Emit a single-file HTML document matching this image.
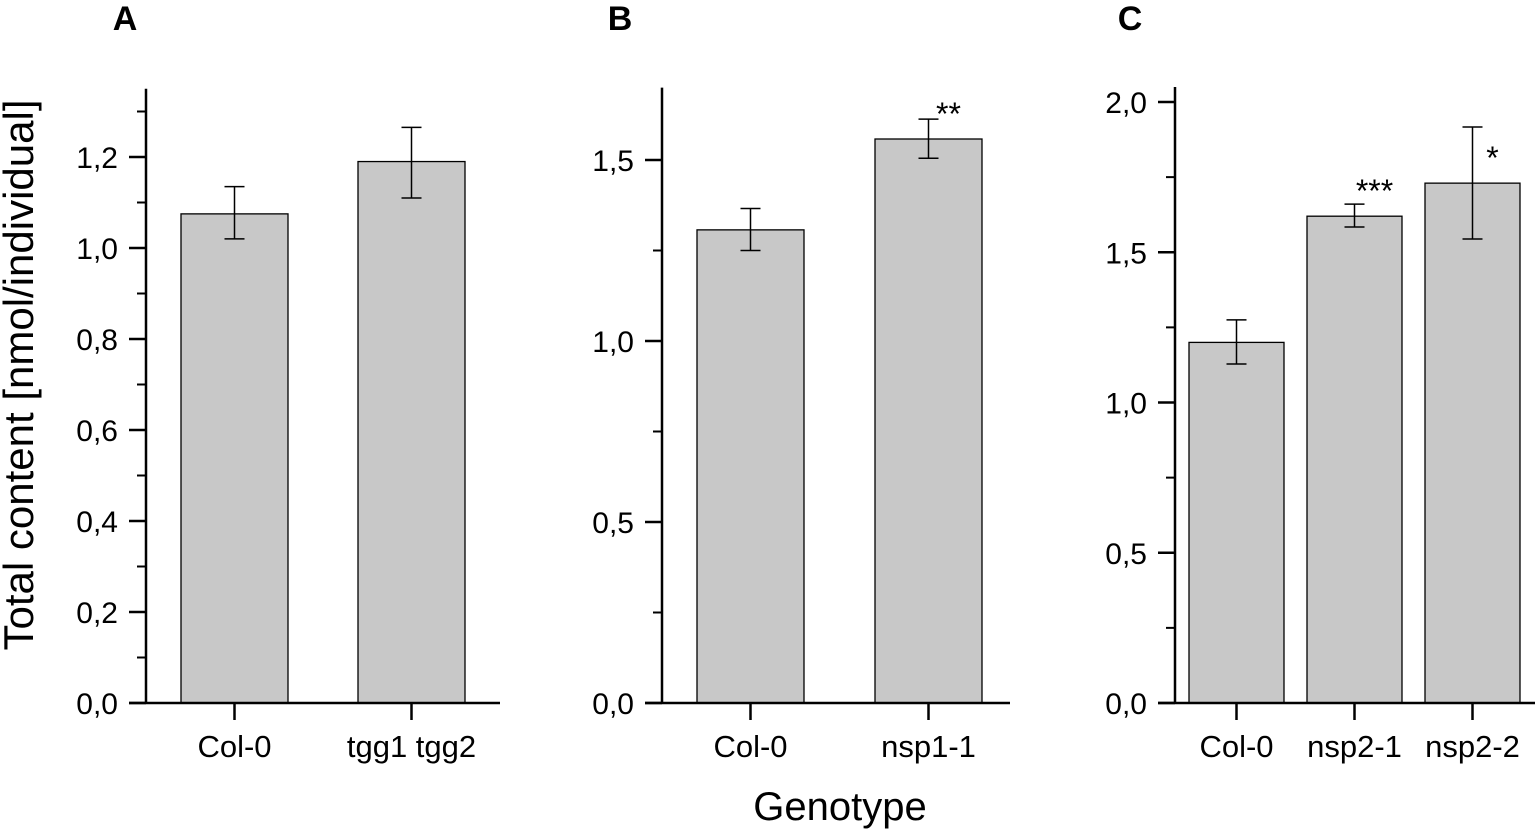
<!DOCTYPE html>
<html><head><meta charset="utf-8"><style>
body{margin:0;background:#fff;}
svg{display:block;font-family:"Liberation Sans",Arial,sans-serif;}
</style></head><body>
<svg id="chart" width="1535" height="829" viewBox="0 0 1535 829"></svg>
<script>
const panelLetters = ["A","B","C"];
const catsA = ["Col-0","tgg1 tgg2"];
const valsA = [1.075,1.19];
const errLoA = [1.02,1.11];
const errHiA = [1.135,1.265];
const catsB = ["Col-0","nsp1-1"];
const valsB = [1.307,1.558];
const errLoB = [1.25,1.505];
const errHiB = [1.366,1.613];
const sigB = ["","**"];
const catsC = ["Col-0","nsp2-1","nsp2-2"];
const valsC = [1.20,1.62,1.73];
const errLoC = [1.128,1.584,1.544];
const errHiC = [1.275,1.66,1.917];
const sigC = ["","***","*"];
const ticksA = [0,0.2,0.4,0.6,0.8,1.0,1.2];
const ticksB = [0,0.5,1.0,1.5];
const ticksC = [0,0.5,1.0,1.5,2.0];

const NS="http://www.w3.org/2000/svg";
const svg=document.getElementById('chart');
function mk(tag,attrs,parent){const e=document.createElementNS(NS,tag);for(const k in attrs)e.setAttribute(k,attrs[k]);(parent||svg).appendChild(e);return e;}

const panels=[
 {letter:panelLetters[0],lx:125,ax:146,right:500,y0:703,yScale:91/0.2,ymax:1.35,ticks:ticksA,minor:0.1,cats:catsA,vals:valsA,lo:errLoA,hi:errHiA,sig:["",""],barX0:181,barW:107,gap:177},
 {letter:panelLetters[1],lx:620,ax:662,right:1010,y0:703,yScale:181/0.5,ymax:1.70,ticks:ticksB,minor:0.25,cats:catsB,vals:valsB,lo:errLoB,hi:errHiB,sig:sigB,barX0:697,barW:107,gap:178},
 {letter:panelLetters[2],lx:1130,ax:1175,right:1535,y0:703,yScale:150.25/0.5,ymax:2.05,ticks:ticksC,minor:0.25,cats:catsC,vals:valsC,lo:errLoC,hi:errHiC,sig:sigC,barX0:1189,barW:95,gap:118}
];
panels.forEach((p)=>{
 const g=mk('g',{});
 
 
 const Y=v=>p.y0-v*p.yScale;
 const t=mk('text',{x:p.lx,y:30,'font-size':34,'font-weight':'bold','text-anchor':'middle'},g);t.textContent=p.letter;
 
 
 p.cats.forEach((c,i)=>{
  const x=p.barX0+i*p.gap, cx=x+p.barW/2;
  const r=mk('rect',{x:x,y:Y(p.vals[i]),width:p.barW,height:p.y0-Y(p.vals[i]),fill:'#c8c8c8',stroke:'#000','stroke-width':1.3},g);
  
  
  const e=mk('path',{d:`M${cx},${Y(p.lo[i])}V${Y(p.hi[i])}M${cx-10},${Y(p.lo[i])}H${cx+10}M${cx-10},${Y(p.hi[i])}H${cx+10}`,stroke:'#000','stroke-width':1.5,fill:'none'},g);
  
  
  if(p.sig[i]){const s=mk('text',{x:cx+20,y:Y(p.vals[i])-14,'font-size':32,'text-anchor':'middle'},g);s.textContent=p.sig[i];
   
   }
  mk('line',{x1:cx,x2:cx,y1:p.y0,y2:p.y0+17,stroke:'#000','stroke-width':2.5},g);
  const l=mk('text',{x:cx,y:p.y0+54,'font-size':31,'text-anchor':'middle'},g);l.textContent=c;
  
  
 });
 mk('line',{x1:p.ax,x2:p.ax,y1:Y(p.ymax),y2:p.y0+1,stroke:'#000','stroke-width':2.5},g);
 mk('line',{x1:p.ax-17,x2:p.right,y1:p.y0,y2:p.y0,stroke:'#000','stroke-width':2.5},g);
 for(let v=0;v<=p.ymax+1e-9;v+=p.minor){mk('line',{x1:p.ax-9,x2:p.ax,y1:Y(v),y2:Y(v),stroke:'#000','stroke-width':2},g);}
 p.ticks.forEach(v=>{
  mk('line',{x1:p.ax-17,x2:p.ax,y1:Y(v),y2:Y(v),stroke:'#000','stroke-width':2.5},g);
  const tl=mk('text',{x:p.ax-28,y:Y(v)+11,'font-size':30,'text-anchor':'end'},g);tl.textContent=v.toFixed(1).replace('.',',');
  
  
 });
});
const yt=mk('text',{x:0,y:0,'font-size':42,'text-anchor':'middle',transform:'translate(33,375) rotate(-90)'});yt.textContent='Total content [nmol/individual]';


const xt=mk('text',{x:840,y:820,'font-size':40,'text-anchor':'middle'});xt.textContent='Genotype';


</script>
</body></html>
